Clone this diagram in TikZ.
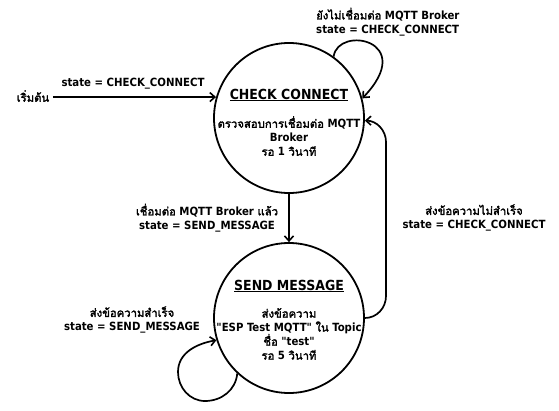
\documentclass[tikz,border=0pt]{standalone}
\usepackage{fontspec}
\setmainfont[Ligatures=TeXOff]{DejaVu Sans Condensed}
\newfontfamily\thai[Script=Thai, AutoFakeBold=2.2]{Loma}
\usetikzlibrary{positioning,arrows.meta}

\begin{document}
\begin{tikzpicture}[x=1pt, y=1pt,
		font=\bfseries\fontsize{11.3}{14}\selectfont,
		statenode/.style={draw, circle, line width=1.8pt, minimum size=150pt, inner sep=0pt},
		statetitle/.style={font=\bfseries\fontsize{13.9}{15}\selectfont},
		statebody/.style={align=center, inner sep=0pt},
		edgelabel/.style={align=center, inner sep=0pt},
		trans/.style={line width=1.7pt, -{Straight Barb[length=5pt, width=9pt, line width=1.6pt]}}]
		\useasboundingbox (0,0) rectangle (559,-410);

		% Define states
		\node[statenode] (check) at (289,-118) {};
		\node[statenode] (send) at (289,-318) {};
		\node[statetitle] (checktitle) at (289,-95) {\underline{CHECK CONNECT}};
		\node[statebody] (checkbody) at (289,-136) {{\thai ตรวจสอบการเชื่อมต่อ} MQTT\\Broker\\{\thai รอ} 1 {\thai วินาที}};
		\node[statetitle] (sendtitle) at (289,-286) {\underline{SEND MESSAGE}};
		\node[statebody] (sendbody) at (289,-334) {{\thai ส่งข้อความ}\\"ESP Test MQTT" {\thai ใน} Topic\\{\thai ชื่อ} "test"\\{\thai รอ} 5 {\thai วินาที}};

		% Start
		\node (start) at (33,-96) {\thai เริ่มต้น};
		\draw[trans] (start.east |- check.164) -- (check.164);
		\node[edgelabel] (startlabel) at (133,-84) {state = CHECK\_CONNECT};

		% Draw the transitions
		\draw[trans] (check.54) .. controls (338,-25) and (418,-40) .. (check.15);
		\node[edgelabel, align=left, anchor=west] (waitlabel) at (316,-22) {{\thai ยังไม่เชื่อมต่อ} MQTT Broker\\state = CHECK\_CONNECT};

		\draw[trans] (check.south) -- (send.north);
		\node[edgelabel] (connectedlabel) at (207,-218) {{\thai เชื่อมต่อ} MQTT Broker {\thai แล้ว}\\state = SEND\_MESSAGE};

		\draw[trans] (send.east) to[out=0, in=-90] (386,-296) -- (386,-142) to[out=90, in=0] (check.-2);
		\node[edgelabel] (faillabel) at (474,-218) {{\thai ส่งข้อความไม่สำเร็จ}\\state = CHECK\_CONNECT};

		\draw[trans] (send.227) to[out=-95, in=0] (205,-401) to[out=180, in=-90] (178,-372) to[out=90, in=190] (send.197);
		\node[edgelabel] (successlabel) at (132,-320) {{\thai ส่งข้อความสำเร็จ}\\state = SEND\_MESSAGE};
	\end{tikzpicture}
\end{document}
